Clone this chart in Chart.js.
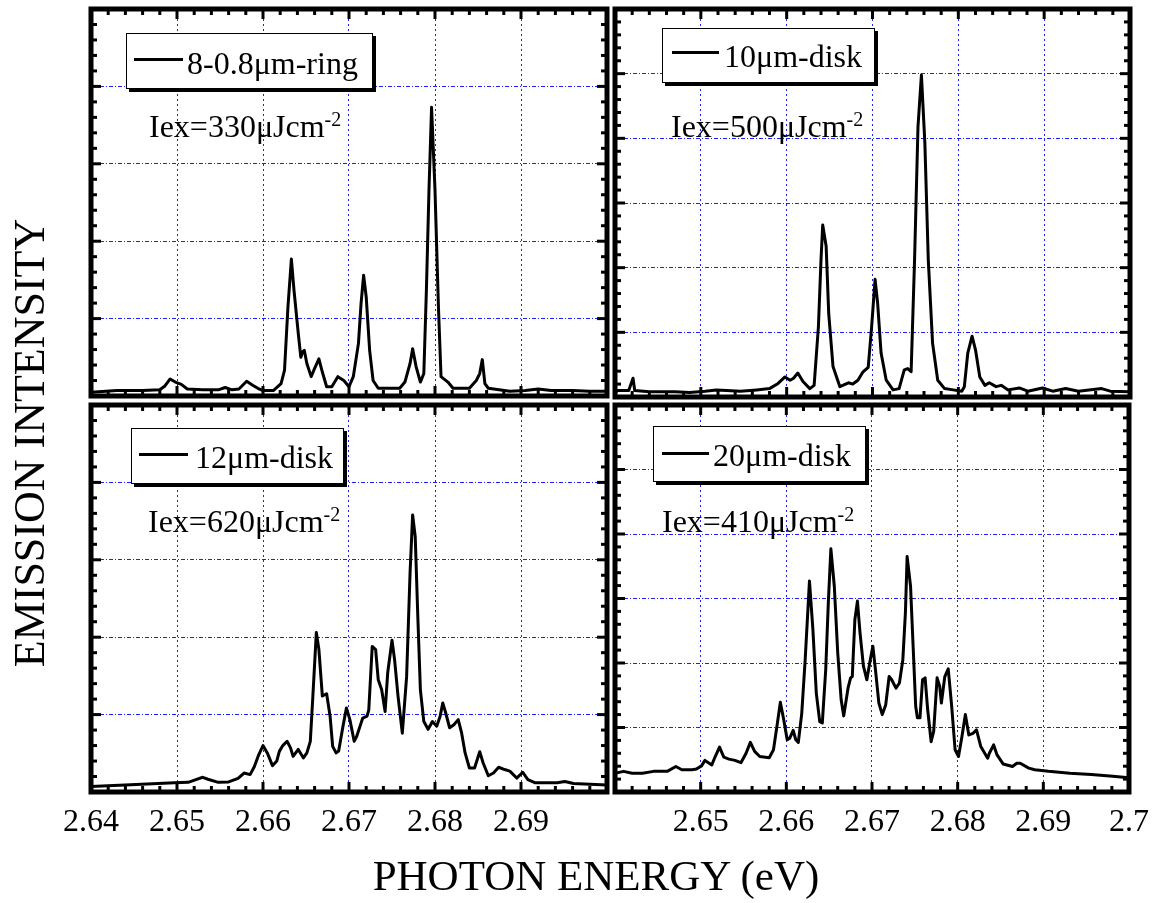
<!DOCTYPE html>
<html><head><meta charset="utf-8">
<script src="https://cdn.jsdelivr.net/npm/chart.js@4.4.0/dist/chart.umd.min.js"></script>
<style>
html,body{margin:0;padding:0;background:#fff;}
#wrap{position:relative;width:1160px;height:903px;overflow:hidden;font-family:"Liberation Serif","Times New Roman",serif;color:#000;}
canvas{position:absolute;left:0;top:0;}
.leg{position:absolute;border:1.5px solid #000;background:#fff;box-shadow:3px 3px 0 #000;box-sizing:border-box;}
.leg .ln{position:absolute;height:3px;background:#000;}
.leg .tx{position:absolute;font-size:32px;line-height:32px;white-space:nowrap;}
.ann{position:absolute;font-size:32px;line-height:32px;white-space:nowrap;}
.ann sup{font-size:20px;vertical-align:0;position:relative;top:-11px;}
#xt{position:absolute;left:296px;top:854px;width:600px;text-align:center;font-size:43px;line-height:43px;white-space:nowrap;}
#yt{position:absolute;left:-270px;top:421px;width:600px;height:44px;text-align:center;font-size:44px;line-height:44px;white-space:nowrap;transform:rotate(-90deg);}
</style>
</head>
<body>
<div id="wrap">
<canvas id="cA" width="1160" height="903"></canvas>
<canvas id="cB" width="1160" height="903"></canvas>
<canvas id="cC" width="1160" height="903"></canvas>
<canvas id="cD" width="1160" height="903"></canvas>

<div class="leg" style="left:126px;top:33px;width:247px;height:56px;"><div class="ln" style="left:7px;top:24px;width:49px;"></div><div class="tx" style="left:60px;top:13px;">8-0.8μm-ring</div></div>
<div class="leg" style="left:662px;top:28px;width:213px;height:55px;"><div class="ln" style="left:9px;top:22px;width:47px;"></div><div class="tx" style="left:61px;top:11px;">10μm-disk</div></div>
<div class="leg" style="left:131px;top:428px;width:213px;height:56px;"><div class="ln" style="left:7px;top:24px;width:49px;"></div><div class="tx" style="left:63px;top:12px;">12μm-disk</div></div>
<div class="leg" style="left:653px;top:426px;width:213px;height:56px;"><div class="ln" style="left:8px;top:25px;width:47px;"></div><div class="tx" style="left:59px;top:12px;">20μm-disk</div></div>

<div class="ann" style="left:149px;top:110px;">Iex=330μJcm<sup>-2</sup></div>
<div class="ann" style="left:671px;top:110px;">Iex=500μJcm<sup>-2</sup></div>
<div class="ann" style="left:148px;top:505px;">Iex=620μJcm<sup>-2</sup></div>
<div class="ann" style="left:662px;top:505px;">Iex=410μJcm<sup>-2</sup></div>

<div id="xt">PHOTON ENERGY (eV)</div>
<div id="yt">EMISSION INTENSITY</div>
</div>

<script>
// ---------- DATA ----------
const ringX = [2.6400,2.6430,2.6460,2.6480,2.6486,2.6492,2.6498,2.6505,2.6512,2.6530,2.6548,2.6556,2.6564,2.6572,2.6581,2.6588,2.6594,2.6600,2.6612,2.6621,2.6625,2.6629,2.6633,2.6636,2.6641,2.6644,2.6646,2.6648,2.6651,2.6656,2.6659,2.6665,2.6669,2.6674,2.6680,2.6687,2.6694,2.6700,2.6705,2.6711,2.6714,2.6717,2.6720,2.6724,2.6728,2.6734,2.6759,2.6765,2.6771,2.6774,2.6778,2.6783,2.6787,2.6790,2.6793,2.6796,2.6800,2.6804,2.6807,2.6815,2.6821,2.6840,2.6848,2.6852,2.6855,2.6858,2.6862,2.6887,2.6905,2.6920,2.6935,2.6960,2.6980,2.7000];
const ringY = [0.05,0.07,0.07,0.08,0.13,0.22,0.18,0.15,0.09,0.08,0.08,0.11,0.08,0.09,0.19,0.14,0.10,0.07,0.07,0.16,0.33,1.15,1.77,1.37,0.81,0.50,0.57,0.59,0.42,0.25,0.33,0.48,0.31,0.12,0.12,0.25,0.20,0.12,0.25,0.68,1.19,1.56,1.28,0.59,0.20,0.10,0.10,0.18,0.42,0.61,0.38,0.18,0.29,1.37,2.66,3.73,2.66,1.15,0.25,0.18,0.10,0.10,0.20,0.29,0.47,0.16,0.10,0.06,0.07,0.09,0.07,0.07,0.06,0.06];

const disk10X = [2.6400,2.6403,2.6416,2.6421,2.6423,2.6440,2.6470,2.6487,2.6505,2.6518,2.6530,2.6546,2.6565,2.6580,2.6590,2.6598,2.6604,2.6608,2.6613,2.6619,2.6627,2.6632,2.6637,2.6640,2.6642,2.6646,2.6649,2.6654,2.6662,2.6672,2.6677,2.6683,2.6689,2.6695,2.6699,2.6703,2.6706,2.6710,2.6716,2.6724,2.6731,2.6737,2.6741,2.6745,2.6749,2.6753,2.6757,2.6761,2.6765,2.6770,2.6776,2.6784,2.6794,2.6804,2.6807,2.6811,2.6816,2.6820,2.6825,2.6831,2.6836,2.6844,2.6850,2.6858,2.6871,2.6881,2.6898,2.6910,2.6925,2.6940,2.6967,2.6977,2.7000];
const disk10Y = [0.06,0.10,0.10,0.29,0.10,0.08,0.08,0.07,0.09,0.11,0.10,0.09,0.11,0.13,0.21,0.31,0.26,0.29,0.37,0.24,0.13,0.18,1.09,2.12,2.66,2.33,1.29,0.47,0.16,0.22,0.20,0.26,0.39,0.46,1.09,1.82,1.45,0.68,0.26,0.11,0.13,0.42,0.44,0.39,2.12,4.18,4.98,3.93,2.12,0.83,0.26,0.13,0.11,0.09,0.16,0.68,0.94,0.73,0.31,0.18,0.22,0.16,0.18,0.11,0.14,0.09,0.14,0.09,0.13,0.09,0.13,0.09,0.08];

const disk12X = [2.6400,2.6446,2.6497,2.6513,2.6522,2.6530,2.6536,2.6548,2.6560,2.6571,2.6578,2.6585,2.6590,2.6595,2.6600,2.6605,2.6611,2.6616,2.6619,2.6623,2.6628,2.6632,2.6635,2.6641,2.6647,2.6651,2.6655,2.6658,2.6662,2.6665,2.6669,2.6674,2.6678,2.6681,2.6685,2.6688,2.6693,2.6697,2.6701,2.6706,2.6709,2.6714,2.6716,2.6721,2.6723,2.6727,2.6731,2.6734,2.6738,2.6742,2.6745,2.6750,2.6753,2.6757,2.6762,2.6767,2.6771,2.6774,2.6777,2.6780,2.6783,2.6787,2.6792,2.6797,2.6802,2.6806,2.6809,2.6812,2.6817,2.6822,2.6827,2.6831,2.6835,2.6840,2.6846,2.6852,2.6856,2.6862,2.6868,2.6874,2.6881,2.6887,2.6895,2.6902,2.6908,2.6916,2.6929,2.6942,2.6951,2.6961,2.6980,2.7000];
const disk12Y = [0.07,0.095,0.12,0.125,0.16,0.19,0.165,0.125,0.13,0.175,0.245,0.225,0.33,0.48,0.60,0.505,0.34,0.40,0.525,0.60,0.655,0.57,0.46,0.55,0.44,0.505,0.655,1.24,2.06,1.84,1.24,1.27,0.98,0.59,0.505,0.53,0.85,1.085,0.935,0.655,0.72,0.89,0.955,0.98,1.06,1.88,1.84,1.45,1.32,1.04,1.54,1.96,1.71,1.24,0.76,1.49,2.83,3.58,3.30,2.27,1.32,0.91,0.81,0.91,0.85,0.98,1.15,1.04,0.83,0.87,0.935,0.76,0.505,0.31,0.31,0.52,0.375,0.21,0.245,0.32,0.29,0.27,0.18,0.255,0.16,0.12,0.12,0.12,0.135,0.11,0.10,0.09];

const disk20X = [2.6400,2.6410,2.6420,2.6432,2.6445,2.6461,2.6471,2.6478,2.6490,2.6495,2.6501,2.6505,2.6513,2.6517,2.6522,2.6527,2.6533,2.6540,2.6547,2.6553,2.6558,2.6563,2.6569,2.6580,2.6585,2.6589,2.6593,2.6597,2.6601,2.6604,2.6608,2.6611,2.6614,2.6618,2.6622,2.6627,2.6631,2.6635,2.6639,2.6642,2.6646,2.6649,2.6652,2.6656,2.6660,2.6664,2.6667,2.6672,2.6675,2.6677,2.6680,2.6683,2.6686,2.6690,2.6694,2.6698,2.6701,2.6704,2.6708,2.6712,2.6716,2.6720,2.6723,2.6728,2.6732,2.6736,2.6739,2.6741,2.6745,2.6748,2.6751,2.6753,2.6756,2.6759,2.6762,2.6765,2.6769,2.6772,2.6776,2.6779,2.6781,2.6785,2.6789,2.6793,2.6797,2.6801,2.6805,2.6809,2.6813,2.6818,2.6822,2.6827,2.6835,2.6837,2.6842,2.6846,2.6853,2.6864,2.6869,2.6873,2.6883,2.6890,2.6906,2.6931,2.6956,2.6981,2.7000];
const disk20Y = [0.29,0.32,0.29,0.29,0.32,0.32,0.395,0.345,0.345,0.355,0.405,0.49,0.42,0.55,0.695,0.54,0.51,0.49,0.455,0.60,0.77,0.63,0.55,0.53,0.655,1.015,1.39,1.12,0.81,0.835,0.955,0.81,0.77,1.22,2.05,3.27,2.52,1.53,1.09,1.07,1.90,2.93,3.77,3.19,2.155,1.43,1.18,1.61,1.77,1.79,2.67,2.96,2.47,1.95,1.74,2.05,2.26,1.90,1.38,1.20,1.35,1.79,1.74,1.61,1.69,2.05,2.78,3.65,3.19,2.26,1.33,1.15,1.15,1.74,1.77,1.275,0.78,0.94,1.77,1.64,1.38,1.79,1.91,1.33,0.655,0.55,0.86,1.20,0.885,0.91,0.965,0.705,0.525,0.60,0.73,0.575,0.435,0.395,0.445,0.445,0.37,0.345,0.32,0.29,0.27,0.245,0.22];

const leftTickLabels  = ['2.64','2.65','2.66','2.67','2.68','2.69'];
const rightTickLabels = ['2.65','2.66','2.67','2.68','2.69','2.7'];

// ---------- FRAME + INWARD TICKS ----------
const frameTicks = {
  id: 'frameTicks',
  afterDatasetsDraw(chart, args, o) {
    const {ctx, chartArea: a, scales: {x, y}} = chart;
    ctx.save();
    ctx.strokeStyle = '#000';
    ctx.lineWidth = 3;
    const seg = (x1, y1, x2, y2) => { ctx.beginPath(); ctx.moveTo(x1, y1); ctx.lineTo(x2, y2); ctx.stroke(); };
    const nx = Math.round((x.max - x.min) / o.xMinor);
    for (let i = 0; i <= nx; i++) {
      const px = x.getPixelForValue(x.min + i * o.xMinor);
      const len = (i % o.xPer === 0) ? 10 : 6;
      seg(px, a.bottom, px, a.bottom - len);
      seg(px, a.top, px, a.top + len);
    }
    const ny = Math.round((y.max - y.min) / o.yMinor);
    for (let j = 0; j <= ny; j++) {
      const py = y.getPixelForValue(y.min + j * o.yMinor);
      const len = (j % o.yPer === 0) ? 10 : 6;
      seg(a.left, py, a.left + len, py);
      seg(a.right, py, a.right - len, py);
    }
    ctx.lineWidth = 5;
    ctx.strokeRect(a.left, a.top, a.right - a.left, a.bottom - a.top);
    ctx.restore();
  }
};

function makePanel(id, xs, ys, yMax, area, tickLabels) {
  const W = 1160, H = 903, axisH = tickLabels ? 50 : 0;
  const pts = xs.map((v, i) => ({x: v, y: ys[i]}));
  return new Chart(document.getElementById(id), {
    type: 'line',
    data: { datasets: [{ data: pts, borderColor: '#000', borderWidth: 3, borderJoinStyle: 'round', borderCapStyle: 'round', pointRadius: 0, tension: 0, fill: false }] },
    options: {
      responsive: false, animation: false, events: [],
      layout: { padding: { left: area.left, top: area.top, right: W - area.right, bottom: H - area.bottom - axisH } },
      plugins: { legend: { display: false }, tooltip: { enabled: false }, frameTicks: { xMinor: 0.002, xPer: 5, yMinor: 0.2, yPer: 5 } },
      scales: {
        x: {
          type: 'linear', min: 2.64, max: 2.70,
          grid: { color: 'rgb(30,30,255)', lineWidth: 1, drawTicks: false },
          border: { display: false, dash: [2, 3] },
          ticks: {
            display: !!tickLabels, stepSize: 0.01, autoSkip: false, maxRotation: 0, padding: 11, color: '#000',
            font: { family: '"Liberation Serif","Times New Roman",serif', size: 32 },
            callback: (v) => { const s = String(+Number(v).toFixed(2)); return tickLabels && tickLabels.includes(s) ? s : ''; }
          },
          afterFit: (s) => { s.height = axisH; }
        },
        y: {
          min: 0, max: yMax,
          grid: { color: 'rgb(30,30,255)', lineWidth: 1, drawTicks: false },
          border: { display: false, dash: [4, 2, 1, 2] },
          ticks: { display: false, stepSize: 1 },
          afterFit: (s) => { s.width = 0; }
        }
      }
    },
    plugins: [frameTicks]
  });
}

makePanel('cA', ringX,  ringY,  5, {left: 91,  top: 9,   right: 607,  bottom: 396}, null);
makePanel('cB', disk10X, disk10Y, 6, {left: 615, top: 9,   right: 1130, bottom: 397}, null);
makePanel('cC', disk12X, disk12Y, 5, {left: 91,  top: 405, right: 607,  bottom: 792}, leftTickLabels);
makePanel('cD', disk20X, disk20Y, 6, {left: 615, top: 405, right: 1130, bottom: 792}, rightTickLabels);
</script>
</body></html>
